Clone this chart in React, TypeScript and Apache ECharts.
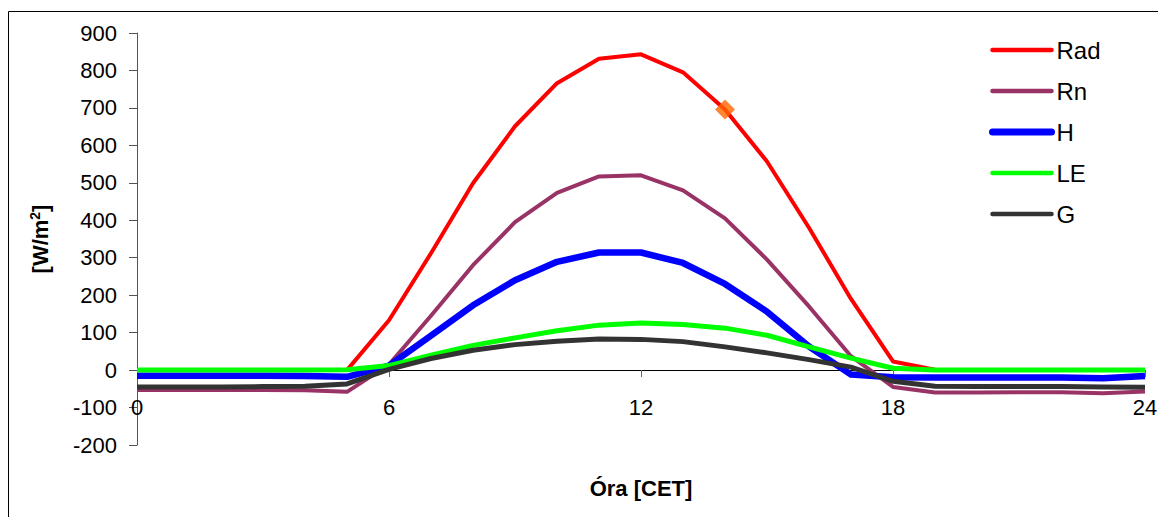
import React, { useEffect, useRef } from "react";
import * as echarts from "echarts";

const hours = [0, 1, 2, 3, 4, 5, 6, 7, 8, 9, 10, 11, 12, 13, 14, 15, 16, 17, 18, 19, 20, 21, 22, 23, 24];
const rad = [0, 0, 0, 0, 0, 0, 133, 312, 499, 651, 766, 831, 843, 795, 696, 557, 380, 190, 23, 1, 0, 0, 0, 0, 0];
const rn = [-53, -53, -53, -53, -54, -58, 15, 145, 280, 395, 473, 517, 520, 480, 405, 295, 170, 37, -45, -60, -60, -59, -59, -62, -57];
const hFlux = [-15, -15, -15, -15, -16, -18, 12, 92, 173, 240, 289, 314, 314, 286, 230, 156, 63, -12, -19, -20, -20, -20, -20, -22, -16];
const le = [0, 0, 0, 0, 0, 1, 12, 40, 66, 86, 105, 120, 126, 122, 112, 93, 62, 32, 5, 0, 0, 0, 0, 0, 0];
const g = [-45, -45, -45, -44, -43, -37, 2, 31, 53, 68, 77, 83, 82, 76, 62, 46, 28, 8, -30, -43, -44, -44, -44, -45, -46];
const markerPoint = [14, 696];
const seriesNames = ["Rad", "Rn", "H", "LE", "G"];
const seriesColors = ["#FF0000", "#993366", "#0000FF", "#00FF00", "#333333"];
const seriesWidths = [4, 4, 6.5, 5, 5];

const FONT = "'Liberation Sans', Arial, sans-serif";

export default function App() {
  const ref = useRef<HTMLDivElement>(null);
  useEffect(() => {
    if (!ref.current) return;
    const chart = echarts.init(ref.current, undefined, { renderer: "svg" });
    const pair = (arr: number[]) => hours.map((h, i) => [h, arr[i]]);
    const seriesData = [rad, rn, hFlux, le, g];
    const lines = seriesNames.map((name, i) => ({
      name,
      type: "line",
      data: pair(seriesData[i]),
      showSymbol: false,
      symbol: "none",
      lineStyle: { color: seriesColors[i], width: seriesWidths[i], join: "round" },
      itemStyle: { color: seriesColors[i] },
      emphasis: { disabled: true },
    }));
    chart.setOption({
      animation: false,
      textStyle: { fontFamily: FONT },
      graphic: [
        {
          type: "rect",
          shape: { x: 8.5, y: 11.5, width: 1170, height: 530 },
          style: { fill: "none", stroke: "#000", lineWidth: 1 },
          silent: true,
        },
      ],
      grid: { left: 137, right: 13, top: 33, bottom: 72, containLabel: false, outerBoundsMode: "none" },
      legend: {
        orient: "vertical",
        left: 989,
        top: 38,
        padding: 0,
        itemWidth: 59,
        itemHeight: 24,
        itemGap: 17,
        data: seriesNames.map((name, i) => ({
          name,
          itemStyle: { opacity: 0 },
          lineStyle: { width: i === 2 ? 7 : 4.5, color: seriesColors[i], cap: "round" },
        })),
        itemStyle: { opacity: 0 },
        textStyle: { fontSize: 24, color: "#000", fontFamily: FONT },
        selectedMode: false,
      },
      xAxis: {
        type: "value",
        min: 0,
        max: 24,
        interval: 6,
        name: "Óra [CET]",
        nameLocation: "middle",
        nameGap: 32,
        nameTextStyle: { fontSize: 22, fontWeight: "bold", color: "#000", fontFamily: FONT },
        axisLine: { onZero: true, lineStyle: { color: "#000", width: 1 } },
        axisTick: { show: true, length: 7, lineStyle: { color: "#666" } },
        axisLabel: { margin: -49, fontSize: 22, color: "#000", fontFamily: FONT },
        splitLine: { show: false },
      },
      yAxis: {
        type: "value",
        min: -200,
        max: 900,
        interval: 100,
        name: "[W/m{sup|2}]",
        nameLocation: "middle",
        nameRotate: 90,
        nameGap: 85,
        nameTextStyle: {
          fontSize: 22,
          fontWeight: "bold",
          color: "#000",
          fontFamily: FONT,
          rich: {
            sup: { fontSize: 14, fontWeight: "bold", verticalAlign: "top", padding: [0, 0, 10, 0], fontFamily: FONT },
          },
        },
        axisLine: { show: true, onZero: false, lineStyle: { color: "#555", width: 1 } },
        axisTick: { show: true, length: 8, lineStyle: { color: "#555" } },
        axisLabel: { margin: 20, fontSize: 22, color: "#000", fontFamily: FONT },
        splitLine: { show: false },
      },
      series: [
        ...lines,
        {
          name: "marker",
          type: "scatter",
          data: [markerPoint],
          symbol: "diamond",
          symbolSize: [20, 20],
          itemStyle: { color: "#FF6600" },
          z: 5,
          emphasis: { disabled: true },
        },
      ],
    });
    return () => chart.dispose();
  }, []);
  return (
    <div
      ref={ref}
      style={{ position: "fixed", left: 0, top: 0, width: 1158, height: 517, background: "#fff" }}
    />
  );
}
